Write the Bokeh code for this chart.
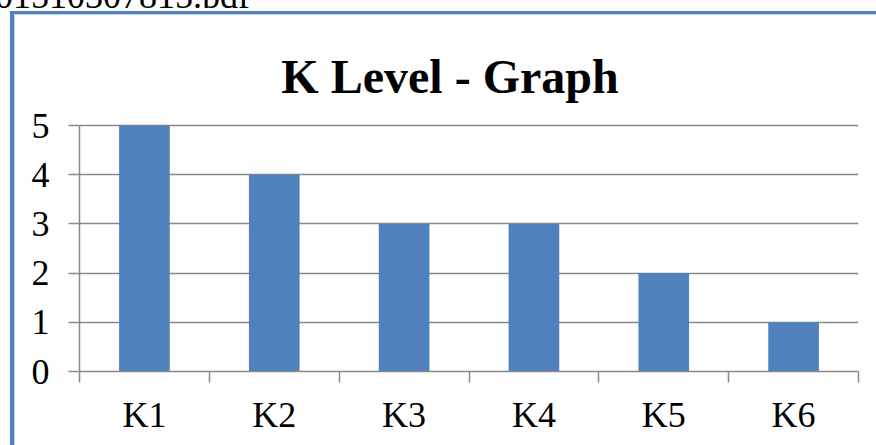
from bokeh.plotting import figure
from bokeh.models import Range1d, FixedTicker, Label, Div
from bokeh.layouts import column
from bokeh.embed import file_html
from bokeh.resources import INLINE

categories = ["K1", "K2", "K3", "K4", "K5", "K6"]
values = [5, 4, 3, 3, 2, 1]
y_ticks = [0, 1, 2, 3, 4, 5]
title_text = "K Level - Graph"
file_label = "01510307815.pdf"

W, H = 876, 445
TOP_H = 8                      # strip holding the cut-off file name
MH = H - TOP_H                 # main figure height
FL, FR = 79, 858               # frame left/right (px)
GT, FB = 125 - TOP_H, 371 - TOP_H   # gridline "5" and axis "0" in main figure px
BLUE = "#4F81BD"
LIGHT = "#C6D5EA"
GREY = "#898989"
FONT = "Liberation Serif"

# ---- top strip: file name, cut off by the page edge as in the reference
top = Div(text='<span style="position:relative; top:-22px; left:-5px; '
               'font-family:\'Liberation Serif\'; font-size:36px; line-height:36px; '
               'white-space:nowrap; color:#000;">' + file_label + '</span>',
          width=W, height=TOP_H, margin=0,
          styles={"overflow": "hidden", "background-color": "#ffffff"})

# ---- main chart
y_top = max(y_ticks) * FB / (FB - GT)   # frame reaches the top of the figure
p = figure(width=W, height=MH, output_backend="svg", toolbar_location=None,
           x_range=Range1d(0, len(categories)), y_range=Range1d(0, y_top),
           min_border_left=FL, min_border_right=W - FR,
           min_border_top=0, min_border_bottom=MH - FB,
           styles={"box-shadow": "inset 10px 3px 0 0 #ffffff, inset 14px 6px 0 0 " + BLUE
                   + ", inset 15px 7px 0 0 " + LIGHT,
                   "background-color": "#ffffff"})
p.outline_line_color = None
p.background_fill_color = None
p.border_fill_color = None

xs = [i + 0.5 for i in range(len(categories))]
p.vbar(x=xs, top=values, width=0.39, bottom=0, fill_color=BLUE, line_color=None)

# y axis
ya = p.yaxis[0]
ya.ticker = FixedTicker(ticks=y_ticks)
ya.bounds = (min(y_ticks), max(y_ticks))
ya.axis_line_color = GREY
ya.axis_line_width = 1.5
ya.major_tick_line_color = GREY
ya.major_tick_line_width = 1.5
ya.major_tick_out = 11
ya.major_tick_in = 0
ya.minor_tick_line_color = None
ya.major_label_text_font = FONT
ya.major_label_text_font_size = "36px"
ya.major_label_text_color = "black"
ya.major_label_standoff = 19

# x axis: labels at bar centres, ticks at category boundaries
xa = p.xaxis[0]
xa.ticker = FixedTicker(ticks=xs, minor_ticks=list(range(len(categories) + 1)))
xa.major_label_overrides = {x: c for x, c in zip(xs, categories)}
xa.axis_line_color = GREY
xa.axis_line_width = 1.5
xa.major_tick_line_color = None
xa.minor_tick_line_color = GREY
xa.minor_tick_line_width = 1.5
xa.minor_tick_out = 11
xa.minor_tick_in = 0
xa.major_label_text_font = FONT
xa.major_label_text_font_size = "36px"
xa.major_label_text_color = "black"
xa.major_label_standoff = 12

p.xgrid.grid_line_color = None
p.ygrid.ticker = FixedTicker(ticks=y_ticks)
p.ygrid.grid_line_color = GREY
p.ygrid.grid_line_width = 1.5

# title inside the (extended) frame, placed through the data scales
KX = (FR - FL) / len(categories)
KY = (FB - GT) / max(y_ticks)
p.add_layout(Label(x=(449.5 - FL) / KX, y=(FB - (76 - TOP_H)) / KY,
                   text=title_text, text_font=FONT, text_font_style="bold",
                   text_font_size="48px", text_align="center",
                   text_baseline="alphabetic", text_color="black"))

layout = column(top, p, spacing=0)
open("out.html", "w").write(file_html(layout, INLINE))
